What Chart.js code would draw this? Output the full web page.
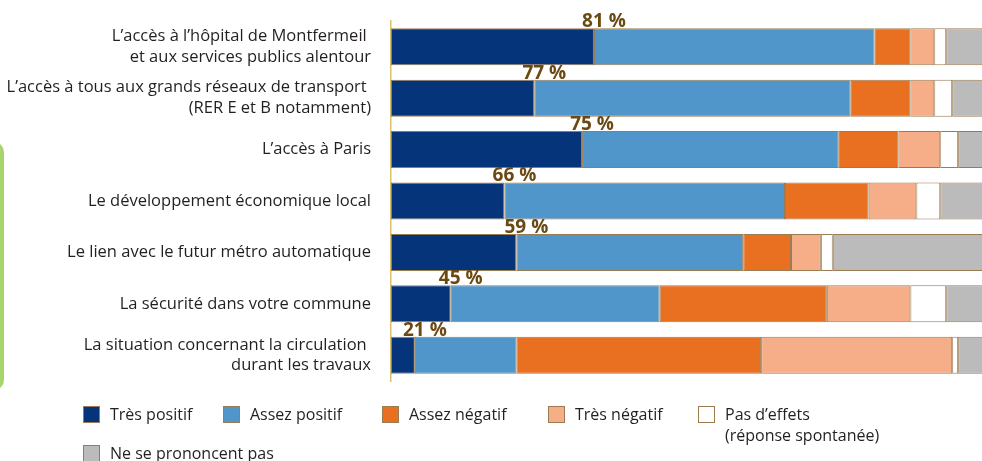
<!DOCTYPE html>
<html lang="fr">
<head>
<meta charset="utf-8">
<title>Effets perçus</title>
<script src="https://cdn.jsdelivr.net/npm/chart.js@4.4.1/dist/chart.umd.min.js"></script>
<style>
  html, body { margin: 0; padding: 0; background: #fff; }
  #wrap { width: 982px; height: 461px; overflow: hidden; position: relative; }
  canvas { display: block; }
</style>
</head>
<body>
<div id="wrap"><canvas id="chart" width="995" height="461"></canvas></div>
<script>
// categories (multi-line labels as arrays)
const categories = [
    ['L\u2019accès à l\u2019hôpital de Montfermeil ', 'et aux services publics alentour'],
    ['L\u2019accès à tous aux grands réseaux de transport ', '(RER E et B notamment)'],
    'L\u2019accès à Paris',
    'Le développement économique local',
    'Le lien avec le futur métro automatique',
    'La sécurité dans votre commune',
    ['La situation concernant la circulation ', 'durant les travaux'],
];

// series values (%)
const tresPositif   = [34, 24, 32, 19, 21, 10, 4];
const assezPositif  = [47, 53, 43, 47, 38, 35, 17];
const assezNegatif  = [6, 10, 10, 14, 8, 28, 41];
const tresNegatif   = [4, 4, 7, 8, 5, 14, 32];
const pasDEffets    = [2, 3, 3, 4, 2, 6, 1];
const nePrononcent  = [7, 6, 5, 8, 26, 7, 5];

// total positive labels shown above the bars
const totalPositif = [81, 77, 75, 66, 59, 45, 21];

const seriesLabels = [
    'Très positif',
    'Assez positif',
    'Assez négatif',
    'Très négatif',
    ['Pas d\u2019effets', '(réponse spontanée)'],
    'Ne se prononcent pas',
];

const colors = ['#06347b', '#5096ca', '#ea7021', '#f5ae88', '#ffffff', '#bbbbbb'];
const edge = '#9b7b50';
const textColor = '#231f20';
const font = '"Open Sans", "Noto Sans", sans-serif';

// "81 %" etc. just above each bar, near the end of the dark segment
const totalsPlugin = {
    id: 'totals',
    afterDatasetsDraw(chart) {
        const { ctx } = chart;
        const meta = chart.getDatasetMeta(0);
        ctx.save();
        ctx.font = `bold 19px ${font}`;
        ctx.fillStyle = '#6b4913';
        ctx.textAlign = 'center';
        ctx.textBaseline = 'alphabetic';
        meta.data.forEach((bar, i) => {
            const top = bar.y - bar.height / 2;
            ctx.fillText(`${totalPositif[i]} %`, bar.x + 10, top - 1);
        });
        ctx.restore();
    },
};

// green panel edge peeking in on the left
const panelPlugin = {
    id: 'panel',
    beforeDraw(chart) {
        const { ctx } = chart;
        ctx.save();
        ctx.fillStyle = '#a7d46c';
        ctx.beginPath();
        ctx.roundRect(-40, 142, 44, 248, 10);
        ctx.fill();
        ctx.restore();
    },
};

// custom legend: two rows, last item wraps onto a second line
const legendPlugin = {
    id: 'customLegend',
    afterDraw(chart) {
        const { ctx } = chart;
        const slots = [
            { x: 83, y: 406 }, { x: 223, y: 406 }, { x: 382, y: 406 },
            { x: 548, y: 406 }, { x: 698, y: 406 }, { x: 83, y: 445 },
        ];
        ctx.save();
        ctx.font = `16px ${font}`;
        ctx.textBaseline = 'middle';
        ctx.textAlign = 'left';
        chart.data.datasets.forEach((ds, i) => {
            const s = slots[i];
            ctx.fillStyle = ds.backgroundColor;
            ctx.fillRect(s.x, s.y, 17, 17);
            ctx.strokeStyle = edge;
            ctx.lineWidth = 1;
            ctx.strokeRect(s.x + 0.5, s.y + 0.5, 16, 16);
            ctx.fillStyle = textColor;
            const lines = Array.isArray(ds.label) ? ds.label : [ds.label];
            lines.forEach((t, k) => ctx.fillText(t, s.x + 27, s.y + 9 + k * 21));
        });
        ctx.restore();
    },
};

const seriesData = [tresPositif, assezPositif, assezNegatif, tresNegatif, pasDEffets, nePrononcent];

new Chart(document.getElementById('chart'), {
    type: 'bar',
    data: {
        labels: categories,
        datasets: seriesData.map((data, i) => ({
            label: seriesLabels[i],
            data,
            backgroundColor: colors[i],
            borderColor: edge,
            borderWidth: 1,
            borderSkipped: false,
            barPercentage: 1,
            categoryPercentage: 0.72,
        })),
    },
    options: {
        indexAxis: 'y',
        responsive: false,
        animation: false,
        layout: { padding: { left: 0, right: 7, top: 21, bottom: 80 } },
        plugins: {
            legend: { display: false },
            tooltip: { enabled: false },
        },
        scales: {
            x: {
                stacked: true,
                min: 0,
                max: 100,
                display: false,
            },
            y: {
                stacked: true,
                grid: { display: false, drawTicks: false },
                border: { display: true, color: '#d8c36c', width: 1.5 },
                ticks: {
                    color: textColor,
                    font: { family: font, size: 16.5, lineHeight: 1.26 },
                    padding: 20,
                },
                afterFit: (axis) => {
                    axis.width = 391;
                    axis.paddingTop = 0;
                    axis.paddingBottom = 0;
                },
            },
        },
    },
    plugins: [panelPlugin, totalsPlugin, legendPlugin],
});
</script>
</body>
</html>
